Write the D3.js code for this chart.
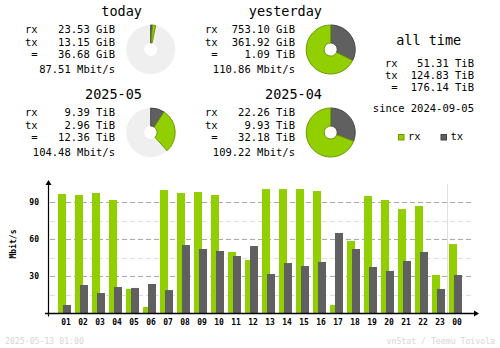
<!DOCTYPE html>
<html>
<head>
<meta charset="utf-8">
<script src="https://cdn.jsdelivr.net/npm/d3@7"></script>
<style>
  html, body { margin: 0; padding: 0; background: #fff; }
  svg { display: block; }
  text { font-family: "DejaVu Sans Mono", monospace; fill: #000; }
</style>
</head>
<body>
<svg id="chart" width="500" height="348"></svg>
<script>
// ---- hourly traffic (Mbit/s) ----
const hours = ["01","02","03","04","05","06","07","08","09","10","11","12",
               "13","14","15","16","17","18","19","20","21","22","23","00"];
const rxRate = [96.5, 95.7, 97.3, 91.6, 19.5, 4.9, 99.7, 97.3, 98.1, 95.7, 49.5, 43.0,
                100.5, 100.5, 100.5, 98.9, 6.5, 58.4, 94.9, 91.6, 84.3, 86.8, 30.8, 55.9];
const txRate = [6.5, 22.7, 16.2, 21.1, 20.3, 23.5, 18.6, 55.1, 51.9, 50.3, 46.2, 54.3,
                31.6, 40.5, 38.1, 41.4, 64.9, 51.9, 37.3, 34.1, 42.2, 49.5, 19.5, 30.8];
const majorTicks = [30, 60, 90];
const minorTicks = [15, 45, 75];

// ---- summary periods ----
const periodNames = ["today", "yesterday", "2025-05", "2025-04"];
const periodRx    = ["23.53 GiB", "753.10 GiB", "9.39 TiB", "22.26 TiB"];
const periodTx    = ["13.15 GiB", "361.92 GiB", "2.96 TiB", "9.93 TiB"];
const periodTotal = ["36.68 GiB", "1.09 TiB", "12.36 TiB", "32.18 TiB"];
const periodRate  = ["87.51 Mbit/s", "110.86 Mbit/s", "104.48 Mbit/s", "109.22 Mbit/s"];
// the same traffic in one unit per pair, for the donuts (GiB for days, TiB for months)
const donutRx = [23.53, 753.10, 9.39, 22.26];
const donutTx = [13.15, 361.92, 2.96, 9.93];

const allTimeRx = "51.31 TiB";
const allTimeTx = "124.83 TiB";
const allTimeTotal = "176.14 TiB";
const allTimeSince = "since 2024-09-05";

const footerDate = "2025-05-13 01:00";
const footerCredit = "vnStat / Teemu Toivola";

const RX = "#92cf00", TX = "#606060";
const RX_EDGE = "#6d9a00", TX_EDGE = "#454545";

const svg = d3.select("#chart");

// ---- summary text blocks ----
const cols = [
  {labelX: 25, valueX: 115, titleX: 142},
  {labelX: 205, valueX: 295, titleX: 322}
];
const rowOffset = [0, 0, 83, 83];

periodNames.forEach((name, i) => {
  const c = cols[i % 2], dy = rowOffset[i];
  const g = svg.append("g");
  g.append("text").attr("x", c.titleX).attr("y", 16 + dy)
    .attr("text-anchor", "end").style("font-size", "13.5px").text(name);
  const rows = [["rx", periodRx[i], 33], ["tx", periodTx[i], 45.5], [" =", periodTotal[i], 58]];
  rows.forEach(([lab, val, y]) => {
    g.append("text").attr("x", c.labelX).attr("y", y + dy)
      .style("font-size", "10.5px").style("white-space", "pre").text(lab);
    g.append("text").attr("x", c.valueX).attr("y", y + dy)
      .attr("text-anchor", "end").style("font-size", "10.5px").text(val);
  });
  g.append("text").attr("x", c.valueX).attr("y", 73 + dy)
    .attr("text-anchor", "end").style("font-size", "10.5px").text(periodRate[i]);
});

// ---- donuts: each period compared against the larger of its pair ----
const arc = d3.arc().innerRadius(6.5).outerRadius(24.5);
const donutCentres = [[150.7, 49.5], [330.7, 49.5], [150.7, 132.5], [330.7, 132.5]];
[[0, 1], [2, 3]].forEach(pair => {
  const totals = pair.map(k => donutRx[k] + donutTx[k]);
  const full = d3.max(totals);
  pair.forEach(k => {
    const [cx, cy] = donutCentres[k];
    const g = svg.append("g").attr("transform", `translate(${cx},${cy})`);
    g.append("path").attr("d", arc({startAngle: 0, endAngle: 2 * Math.PI})).attr("fill", "#efefef");
    const a = d3.scaleLinear().domain([0, full]).range([0, 2 * Math.PI]);
    const txEnd = a(donutTx[k]);
    const rxEnd = a(donutTx[k] + donutRx[k]);
    g.append("path").attr("d", arc({startAngle: 0, endAngle: txEnd}))
      .attr("fill", TX).attr("stroke", TX_EDGE).attr("stroke-width", 1);
    g.append("path").attr("d", arc({startAngle: txEnd, endAngle: rxEnd}))
      .attr("fill", RX).attr("stroke", RX_EDGE).attr("stroke-width", 1);
  });
});

// ---- all time block ----
const at = svg.append("g");
at.append("text").attr("x", 428.7).attr("y", 45).attr("text-anchor", "middle")
  .style("font-size", "13.5px").text("all time");
[["rx", allTimeRx, 66.5], ["tx", allTimeTx, 78.5], [" =", allTimeTotal, 91]].forEach(([lab, val, y]) => {
  at.append("text").attr("x", 385).attr("y", y).style("font-size", "10.5px")
    .style("white-space", "pre").text(lab);
  at.append("text").attr("x", 474).attr("y", y).attr("text-anchor", "end")
    .style("font-size", "10.5px").text(val);
});
at.append("text").attr("x", 474).attr("y", 111.5).attr("text-anchor", "end")
  .style("font-size", "10.5px").text(allTimeSince);

// legend
[["rx", RX, RX_EDGE, 398], ["tx", TX, TX_EDGE, 440.5]].forEach(([lab, fill, edge, x]) => {
  at.append("rect").attr("x", x + 0.5).attr("y", 134.5).attr("width", 5.5).attr("height", 5.5)
    .attr("fill", fill).attr("stroke", edge);
  at.append("text").attr("x", x + 10).attr("y", 140).style("font-size", "10.5px").text(lab);
});

// ---- hourly bar chart ----
const x = d3.scaleBand().domain(hours).range([57, 57 + 17 * hours.length]).padding(0);
const y = d3.scaleLinear().domain([0, 100]).range([313, 313 - 100 * 37 / 30]);
const gridX0 = 50, gridX1 = 473;

const grid = svg.append("g");
grid.selectAll("line.minor").data(minorTicks).join("line")
  .attr("x1", gridX0).attr("x2", gridX1)
  .attr("y1", d => Math.round(y(d)) + 0.5).attr("y2", d => Math.round(y(d)) + 0.5)
  .attr("stroke", "#dedede").attr("stroke-dasharray", "5,3");
grid.selectAll("line.major").data(majorTicks).join("line")
  .attr("x1", gridX0).attr("x2", gridX1)
  .attr("y1", d => Math.round(y(d)) + 0.5).attr("y2", d => Math.round(y(d)) + 0.5)
  .attr("stroke", "#aaaaaa").attr("stroke-dasharray", "5,3");

// separator before the current hour
const sepX = x("00") - 0.5;
grid.append("line").attr("x1", sepX).attr("x2", sepX).attr("y1", 184).attr("y2", 313)
  .attr("stroke", "#e0e0e0");

// bars
const bars = svg.append("g");
bars.selectAll("rect.rx").data(hours).join("rect")
  .attr("x", d => x(d) + 1).attr("width", 8)
  .attr("y", (d, i) => y(rxRate[i])).attr("height", (d, i) => y(0) - y(rxRate[i]))
  .attr("fill", RX);
bars.selectAll("rect.tx").data(hours).join("rect")
  .attr("x", d => x(d) + 6).attr("width", 8)
  .attr("y", (d, i) => y(txRate[i])).attr("height", (d, i) => y(0) - y(txRate[i]))
  .attr("fill", TX);

// axes
const xAxis = d3.axisBottom(x).tickSize(0).tickPadding(6);
svg.append("g").attr("transform", "translate(0,313)").call(xAxis)
  .call(g => g.select(".domain").remove())
  .call(g => g.selectAll("text").attr("dx", 0.5).style("font-size", "8px").style("font-weight", "bold")
    .style("font-family", "'DejaVu Sans Mono', monospace"));

const yAxis = d3.axisLeft(y).tickValues(majorTicks).tickSize(0).tickPadding(9);
svg.append("g").attr("transform", "translate(48,0)").call(yAxis)
  .call(g => g.select(".domain").remove())
  .call(g => g.selectAll("text").style("font-size", "8px").style("font-weight", "bold")
    .style("font-family", "'DejaVu Sans Mono', monospace"));

svg.append("line").attr("x1", 45).attr("x2", 476).attr("y1", 313.5).attr("y2", 313.5)
  .attr("stroke", "#000").attr("stroke-width", 1.5);
svg.append("line").attr("x1", 48.5).attr("x2", 48.5).attr("y1", 183).attr("y2", 316.5)
  .attr("stroke", "#000").attr("stroke-width", 1.2);
svg.append("path").attr("d", "M479,313.5 L474,310.5 L474,316.5 Z").attr("fill", "#000");
svg.append("path").attr("d", "M48.5,180 L45.5,185 L51.5,185 Z").attr("fill", "#000");

svg.append("text").attr("transform", "translate(16,244) rotate(-90)")
  .attr("text-anchor", "middle").style("font-size", "8px").style("font-weight", "bold")
  .text("Mbit/s");

// footer
svg.append("text").attr("x", 5).attr("y", 343.5).style("font-size", "8.2px").style("fill", "#d6d6d6")
  .text(footerDate);
svg.append("text").attr("x", 495).attr("y", 343.5).attr("text-anchor", "end")
  .style("font-size", "8.2px").style("fill", "#d6d6d6").text(footerCredit);
</script>
</body>
</html>
